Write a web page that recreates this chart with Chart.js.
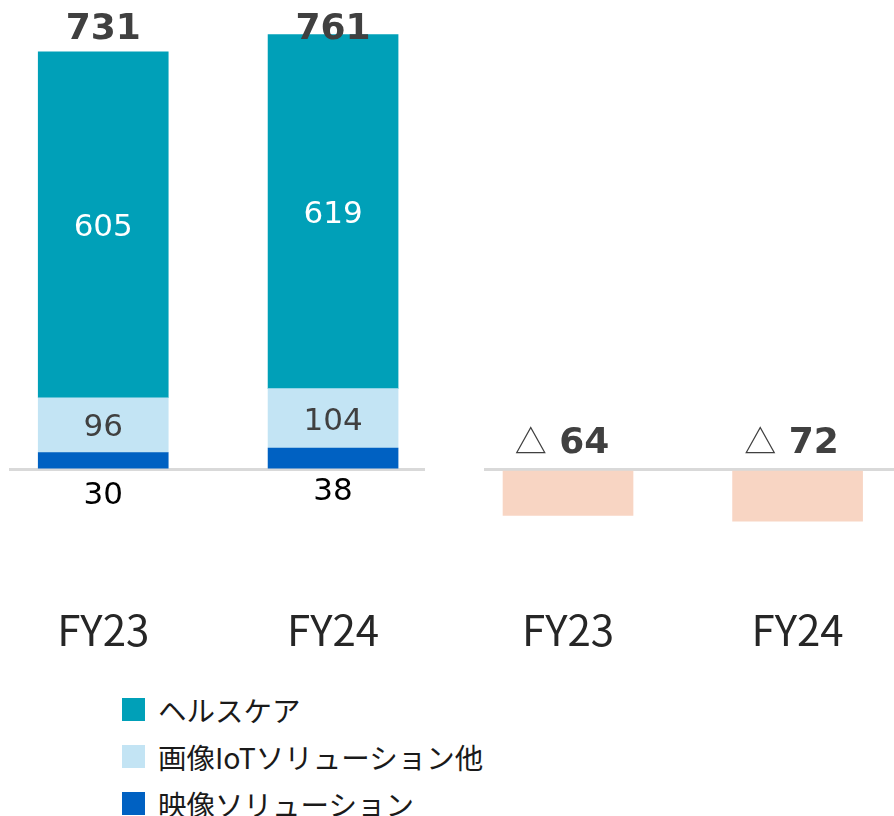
<!DOCTYPE html>
<html lang="ja">
<head>
  <meta charset="UTF-8">
  <title>セグメント別 売上高・営業損益</title>
  <script src="https://cdn.jsdelivr.net/npm/chart.js"></script>
  <style>
    body {
      margin: 0;
      background: #fff;
      font-family: "Noto Sans CJK JP", sans-serif;
    }

    #wrap {
      position: relative;
      width: 894px;
      height: 816px;
      overflow: hidden;
    }

    #salesChart {
      position: absolute;
      left: 0;
      top: 0;
    }

    #lossChart {
      position: absolute;
      left: 430px;
      top: 0;
    }

    #legend {
      position: absolute;
      left: 122px;
      top: 686px;
    }

    .item {
      display: flex;
      align-items: center;
      height: 47px;
      font-size: 28.5px;
      color: #1a1a1a;
      white-space: nowrap;
    }

    .box {
      width: 23px;
      height: 23px;
      margin-right: 13px;
    }
  </style>
</head>
<body>
  <div id="wrap">
    <canvas id="salesChart" width="430" height="680"></canvas>
    <canvas id="lossChart" width="464" height="680"></canvas>
    <div id="legend"></div>
  </div>
  <script>
    // 売上高（億円）
    const salesYears = ["FY23", "FY24"];
    const healthcare = [605, 619];
    const imagingIot = [96, 104];
    const videoSolutions = [30, 38];

    // 営業損益（億円）
    const lossYears = ["FY23", "FY24"];
    const operatingLoss = [-64, -72];

    const seriesNames = ["ヘルスケア", "画像IoTソリューション他", "映像ソリューション"];
    const seriesColors = ["#00A0B8", "#C3E4F4", "#0061C2"];
    const lossColor = "#F8D5C3";

    const numFont = "'DejaVu Sans', Verdana, sans-serif";
    const jpFont = "'Noto Sans CJK JP', sans-serif";

    const totals = salesYears.map((_, i) => healthcare[i] + imagingIot[i] + videoSolutions[i]);

    function toPoints(values) {
      return values.map((v, i) => ({ x: i, y: v }));
    }

    function xAxis(labels, min, max) {
      return {
        type: "linear",
        min: min,
        max: max,
        offset: false,
        stacked: true,
        grid: { display: false, drawTicks: false },
        border: { display: false },
        afterBuildTicks: (scale) => {
          scale.ticks = labels.map((l, i) => ({ value: i }));
        },
        ticks: {
          padding: 5,
          color: "#262626",
          maxRotation: 0,
          font: { family: jpFont, size: 42 },
          callback: (value) => labels[Math.round(value)],
        },
      };
    }

    function yAxis(min, max) {
      return {
        min: min,
        max: max,
        stacked: true,
        afterBuildTicks: (scale) => {
          scale.ticks = [{ value: 0 }];
        },
        ticks: { display: false },
        grid: { color: "#D9D9D9", lineWidth: 3, drawTicks: false },
        border: { display: false },
      };
    }

    // 数値ラベル（alphabetic基準で数字の見た目中央に合わせる）
    function drawNumber(ctx, text, x, centerY, size, bold, color) {
      ctx.font = (bold ? "bold " : "") + size + "px " + numFont;
      ctx.fillStyle = color;
      ctx.textAlign = "center";
      ctx.textBaseline = "alphabetic";
      ctx.fillText(text, x, centerY + size * 0.365);
    }

    const salesLabels = {
      id: "salesLabels",
      afterDatasetsDraw(chart) {
        const { ctx, chartArea } = chart;
        ctx.save();
        chart.data.datasets.forEach((ds, di) => {
          chart.getDatasetMeta(di).data.forEach((bar, i) => {
            const v = ds.data[i].y;
            if (ds.labelPos === "below") {
              drawNumber(ctx, String(v), bar.x, bar.base + 24 - i * 4, 31, false, ds.labelColor);
            } else {
              drawNumber(ctx, String(v), bar.x, (bar.y + bar.base) / 2, 31, false, ds.labelColor);
            }
          });
        });
        // 合計
        const topMeta = chart.getDatasetMeta(chart.data.datasets.length - 1);
        topMeta.data.forEach((bar, i) => {
          drawNumber(ctx, String(totals[i]), bar.x, chartArea.top, 36, true, "#404040");
        });
        ctx.restore();
      },
    };

    const lossLabels = {
      id: "lossLabels",
      afterDatasetsDraw(chart) {
        const ctx = chart.ctx;
        ctx.save();
        ctx.textBaseline = "alphabetic";
        ctx.textAlign = "left";
        chart.getDatasetMeta(0).data.forEach((bar, i) => {
          const num = " " + Math.abs(operatingLoss[i]);
          const centerY = bar.base - 31;
          const baseY = centerY + 36 * 0.365;
          ctx.font = "32px " + jpFont;
          const wTri = ctx.measureText("△").width;
          ctx.font = "bold 36px " + numFont;
          const wNum = ctx.measureText(num).width;
          const startX = bar.x - (wTri + wNum) / 2 - 6;
          ctx.fillStyle = "#404040";
          ctx.font = "32px " + jpFont;
          ctx.fillText("△", startX, baseY);
          ctx.font = "bold 36px " + numFont;
          ctx.fillText(num, startX + wTri, baseY);
        });
        ctx.restore();
      },
    };

    new Chart(document.getElementById("salesChart"), {
      type: "bar",
      data: {
        datasets: [
          {
            label: seriesNames[2],
            data: toPoints(videoSolutions),
            backgroundColor: seriesColors[2],
            labelPos: "below",
            labelColor: "#000000",
          },
          {
            label: seriesNames[1],
            data: toPoints(imagingIot),
            backgroundColor: seriesColors[1],
            labelPos: "center",
            labelColor: "#404040",
          },
          {
            label: seriesNames[0],
            data: toPoints(healthcare),
            backgroundColor: seriesColors[0],
            labelPos: "center",
            labelColor: "#FFFFFF",
          },
        ],
      },
      options: {
        responsive: false,
        animation: false,
        barThickness: 130,
        layout: { padding: { left: 9, right: 5, top: 26, bottom: 20 } },
        plugins: { legend: { display: false }, tooltip: { enabled: false } },
        scales: {
          x: xAxis(salesYears, -0.41, 1.4),
          y: yAxis(-227, 776),
        },
      },
      plugins: [salesLabels],
    });

    new Chart(document.getElementById("lossChart"), {
      type: "bar",
      data: {
        datasets: [
          {
            label: "営業損益",
            data: toPoints(operatingLoss),
            backgroundColor: lossColor,
          },
        ],
      },
      options: {
        responsive: false,
        animation: false,
        barThickness: 130,
        layout: { padding: { left: 54, right: 0, top: 26, bottom: 20 } },
        plugins: { legend: { display: false }, tooltip: { enabled: false } },
        scales: {
          x: xAxis(lossYears, -0.366, 1.42),
          y: yAxis(-181, 617),
        },
      },
      plugins: [lossLabels],
    });

    // 凡例
    const legend = document.getElementById("legend");
    seriesNames.forEach((name, i) => {
      const item = document.createElement("div");
      item.className = "item";
      const box = document.createElement("span");
      box.className = "box";
      box.style.background = seriesColors[i];
      const text = document.createElement("span");
      text.textContent = name;
      item.appendChild(box);
      item.appendChild(text);
      legend.appendChild(item);
    });
  </script>
</body>
</html>
